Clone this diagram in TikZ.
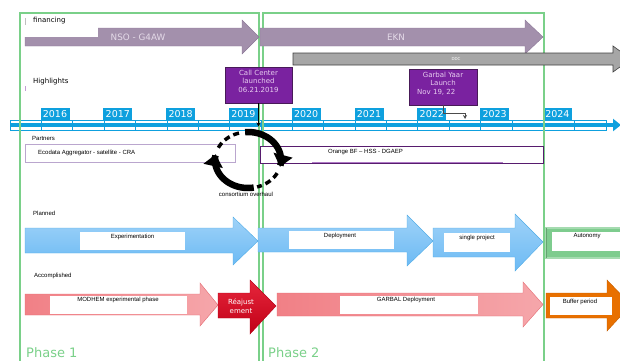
\documentclass[tikz,border=0pt]{standalone}
\usepackage{fontspec}
\setmainfont{DejaVu Sans}
\newfontfamily\arialfont{Liberation Sans}
\usetikzlibrary{arrows.meta}

\definecolor{phasegreen}{RGB}{122,208,137}
\definecolor{fundgray}{RGB}{163,144,172}
\definecolor{fundedge}{RGB}{140,120,152}
\definecolor{fundtext}{RGB}{228,218,232}
\definecolor{ddcgray}{RGB}{166,166,166}
\definecolor{hlpurple}{RGB}{122,34,160}
\definecolor{hledge}{RGB}{72,26,88}
\definecolor{hltext}{RGB}{232,205,240}
\definecolor{yearblue}{RGB}{14,160,222}
\definecolor{ecoedge}{RGB}{186,166,206}
\definecolor{planblue}{RGB}{108,186,244}
\definecolor{planedge}{RGB}{80,172,230}
\definecolor{donepink}{RGB}{241,128,134}
\definecolor{doneedge}{RGB}{228,105,112}
\definecolor{fixred}{RGB}{226,0,26}
\definecolor{buforange}{RGB}{232,112,0}
\definecolor{autogreen}{RGB}{126,204,142}

\begin{document}
\begin{tikzpicture}[x=1pt, y=-1pt,
  lbl/.style={font=\fontsize{7}{8}\selectfont, anchor=west, inner sep=0},
  tag/.style={font=\arialfont\fontsize{6}{7}\selectfont, inner sep=0},
  yearbox/.style={fill=yearblue, text=white, font=\fontsize{9.5}{10}\selectfont,
    minimum width=29pt, minimum height=12pt, inner sep=0},
  hlbox/.style={fill=hlpurple, draw=hledge, line width=0.8pt, inner sep=0},
  hltxt/.style={text=hltext, align=center, inner sep=0, font=\fontsize{7}{8.4}\selectfont},
  phasetxt/.style={text=phasegreen, anchor=west, inner sep=0, font=\fontsize{13}{14}\selectfont},
  loop/.style={line width=6.5pt, -{Triangle[width=19pt,length=12pt]}},
  loopgap/.style={line width=3.5pt, dash pattern=on 6pt off 4pt}]
\useasboundingbox (0,0) rectangle (620,360);
\clip (0,0) rectangle (620,360);

% time line
\draw [yearblue, line width=0.7pt] (10,120.5) rectangle (606,130);
\foreach \i in {1,...,18}
  \draw [yearblue, line width=0.7pt] ({10+\i*31.37},120.5) -- ++(0,9.5);
\draw [yearblue, line width=4pt, -{Triangle[width=12pt,length=8pt]}] (10,125) -- (621,125);
\foreach \yr [count=\i from 0] in {2016,...,2024}
  \node [yearbox] (y\yr) at ({55+62.8*\i},114) {\yr};

% phases
\draw [phasegreen, line width=2pt] (20,380) -- (20,13) -- (259.3,13) -- (259.3,380);
\draw [phasegreen, line width=2pt] (262.5,380) -- (262.5,13) -- (543.5,13) -- (543.5,380);

% financing
\draw [fundedge, fill=fundgray] (25,28) -- (242,28) -- (242,20) -- (259,37)
  -- (242,54) -- (242,46) -- (25,46) -- cycle;
\draw [fundedge, fill=fundgray] (260,28) -- (525,28) -- (525,20) -- (543,37)
  -- (525,54) -- (525,46) -- (260,46) -- cycle;
\fill [white] (24,17) rectangle (98,36.5);
\draw [gray!50] (25.5,18) -- (25.5,25);
\node [lbl] (fin) at (33,21) {financing};
\node [text=fundtext, font=\fontsize{8.8}{10}\selectfont] (nso) at (138,37) {NSO - G4AW};
\node [text=fundtext, font=\fontsize{8.8}{10}\selectfont] (ekn) at (396,37) {EKN};
\draw [black!75, fill=ddcgray, line width=0.6pt] (293,53) -- (613,53) -- (613,46)
  -- (631,59) -- (613,72) -- (613,65) -- (293,65) -- cycle;
\node [text=white, font=\fontsize{4}{5}\selectfont] (ddc) at (456,59) {DDC};

% highlights
\draw [hlpurple!45, line width=0.8pt] (25.5,86) -- (25.5,91);
\node [lbl] (hl) at (33,82) {Highlights};
\node [hlbox, minimum width=67pt, minimum height=36pt] (call) at (258.5,85) {};
\node [hltxt] (calltxt) at (258.5,81) {Call Center\\launched\\06.21.2019};
\node [hlbox, minimum width=68pt, minimum height=36pt] (garbal) at (443,87) {};
\node [hltxt] (garbaltxt) at (443,79) {Garbal Yaar\\Launch};
\node [hltxt, anchor=west] (garbaldate) at (417,92) {Nov 19, 22};
\coordinate (callend) at (258.5,126.5);
\coordinate (garbalend) at (465,119);
\draw [line width=0.8pt, -{Stealth[length=4pt,width=4pt]}] (call.south) -- (callend);
\draw [black!70, line width=0.8pt, -{Stealth[length=4pt,width=4pt]}]
  (garbal.south) -- ++(0,8) -| (garbalend);

% partners
\node [tag, anchor=west] (partners) at (32,138) {Partners};
\draw [ecoedge, fill=white] (25,144) rectangle (235,162);
\node [tag, anchor=west] (eco) at (38,152.5) {Ecodata Aggregator - satellite - CRA};
\draw [hledge!70!hlpurple, fill=white] (260,146) rectangle (543,163);
\draw [hlpurple!60, line width=1pt] (312,162.3) -- (503,162.3);
\node [tag, anchor=west] (orange) at (328,152.5) {Orange BF – HSS - DGAEP};

% consortium overhaul
\draw [loop] plot [domain=-95:14, samples=40] ({248+33*cos(\x)},{160+28*sin(\x)});
\draw [loop] plot [domain=80:192, samples=40] ({248+33*cos(\x)},{160+28*sin(\x)});
\draw [loopgap] plot [domain=206:258, samples=20] ({248+33*cos(\x)},{160+28*sin(\x)});
\draw [loopgap] plot [domain=28:74, samples=20] ({248+33*cos(\x)},{160+28*sin(\x)});
\node [tag] (overhaul) at (246,194.5) {consortium overhaul};

% planned
\node [tag, anchor=west] (planned) at (33,213) {Planned};
\draw [planedge, top color=planblue!65!white, bottom color=planblue]
  (25,228) -- (233,228) -- (233,217) -- (258,241) -- (233,265) -- (233,253) -- (25,253) -- cycle;
\fill [white] (80,232) rectangle (185,250);
\node [tag] (exp) at (132.5,236.5) {Experimentation};
\draw [planedge, top color=planblue!65!white, bottom color=planblue]
  (258,228) -- (407,228) -- (407,215) -- (433,241) -- (407,266) -- (407,252) -- (258,252) -- cycle;
\fill [white] (289,231) rectangle (394,249);
\node [tag] (deploy) at (340,236) {Deployment};
\draw [planedge, top color=planblue!65!white, bottom color=planblue]
  (433,228) -- (515,228) -- (515,214) -- (543,242) -- (515,271) -- (515,257) -- (433,257) -- cycle;
\fill [white] (444,233) rectangle (510,252);
\node [tag] (single) at (477,237.5) {single project};
\draw [autogreen!70!white, line width=2pt, fill=autogreen] (546,227.5) rectangle (640,257.5);
\draw [autogreen!80!black, line width=1pt] (546,227.5) -- (546,257.5);
\fill [white] (552,232) rectangle (640,251);
\node [tag] (auto) at (587,236.5) {Autonomy};

% accomplished
\node [tag, anchor=west] (done) at (34,276) {Accomplished};
\draw [doneedge, left color=donepink, right color=donepink!70!white]
  (25,294) -- (200,294) -- (200,283) -- (218,305) -- (200,326) -- (200,315) -- (25,315) -- cycle;
\fill [white] (50,296) rectangle (187,314);
\node [tag] (modhem) at (118,299.5) {MODHEM experimental phase};
\draw [fixred!80!black, top color=fixred!85!white, bottom color=fixred!85!black]
  (218,293) -- (250,293) -- (250,280) -- (276,306) -- (250,334) -- (250,318) -- (218,318) -- cycle;
\node [text=white, align=center, inner sep=0, font=\fontsize{7}{9}\selectfont] (fix) at (241,306.5) {Réajust\\ement};
\draw [doneedge, left color=donepink, right color=donepink!70!white]
  (277,293) -- (523,293) -- (523,282) -- (543,304.5) -- (523,327) -- (523,316) -- (277,316) -- cycle;
\fill [white] (340,296) rectangle (478,314);
\node [tag] (garbaldep) at (406,299.5) {GARBAL Deployment};
\draw [buforange!85!black, fill=buforange] (546,293) -- (607,293) -- (607,280)
  -- (631,305) -- (607,331) -- (607,318) -- (546,318) -- cycle;
\fill [white] (550,297) rectangle (612,315);
\node [tag] (buffer) at (580,302) {Buffer period};

% phase names
\node [phasetxt] (p1) at (26,353) {Phase 1};
\node [phasetxt] (p2) at (268,353) {Phase 2};
\end{tikzpicture}
\end{document}
